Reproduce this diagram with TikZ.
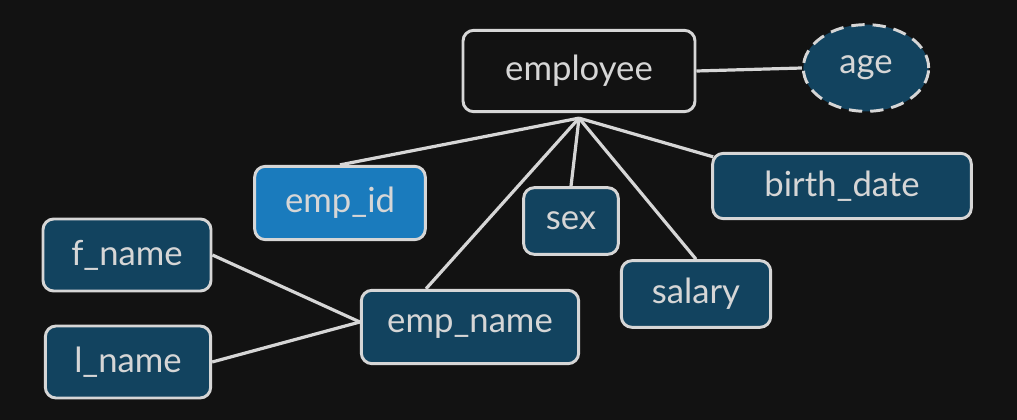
\documentclass[tikz,border=0pt]{standalone}
\usepackage{fontspec}
\setmainfont{Lato}
\usepackage{tikz}
\usetikzlibrary{calc,shapes.geometric}
\definecolor{bgcol}{HTML}{121212}
\definecolor{inkcol}{HTML}{D6D6D6}
\definecolor{attrcol}{HTML}{12435F}
\definecolor{keycol}{HTML}{1A7BBD}
\tikzset{
  attr/.style={draw=inkcol, line width=2.2pt, rounded corners=8pt, fill=attrcol,
    text=inkcol, font=\fontsize{26}{30}\selectfont, inner sep=0pt},
  link/.style={draw=inkcol, line width=2.4pt}
}
\begin{document}
\begin{tikzpicture}[x=0.75pt,y=-0.75pt]
\fill[bgcol] (0,0) rectangle (1017,420);
\useasboundingbox (0,0) rectangle (1017,420);
% entity and attributes
\node[attr, fill=bgcol, minimum width=174pt, minimum height=61pt] (employee) at (579,71) {employee};
\node[attr, ellipse, dashed, dash pattern=on 10pt off 6pt, minimum width=94pt, minimum height=65pt] (age) at (866,68) {age};
\node[attr, minimum width=194pt, minimum height=49pt] (birthdate) at (842,186) {birth\_date};
\node[attr, fill=keycol, minimum width=128pt, minimum height=55pt] (empid) at (340,203) {emp\_id};
\node[attr, minimum width=71pt, minimum height=50pt] (sex) at (571,221) {sex};
\node[attr, minimum width=112pt, minimum height=50pt] (salary) at (696,294) {salary};
\node[attr, minimum width=126pt, minimum height=54pt] (fname) at (127,255) {f\_name};
\node[attr, minimum width=124pt, minimum height=54pt] (lname) at (128,362) {l\_name};
\node[attr, minimum width=163pt, minimum height=55pt] (empname) at (470,327) {emp\_name};
% connectors
\coordinate (hub) at ($(employee.south)+(0,5)$);
\draw[link] (employee.east) -- (age.west);
\draw[link] (hub) -- (empid.north);
\draw[link] (hub) -- ($(empname.north west)!0.3!(empname.north east)$);
\draw[link] (hub) -- (sex.north);
\draw[link] (hub) -- (salary.north);
\draw[link] (hub) -- ($(birthdate.north west)+(2,5)$);
\draw[link] (fname.east) -- ($(empname.west)+(0,-5)$);
\draw[link] (lname.east) -- ($(empname.west)+(0,-5)$);
\end{tikzpicture}
\end{document}
